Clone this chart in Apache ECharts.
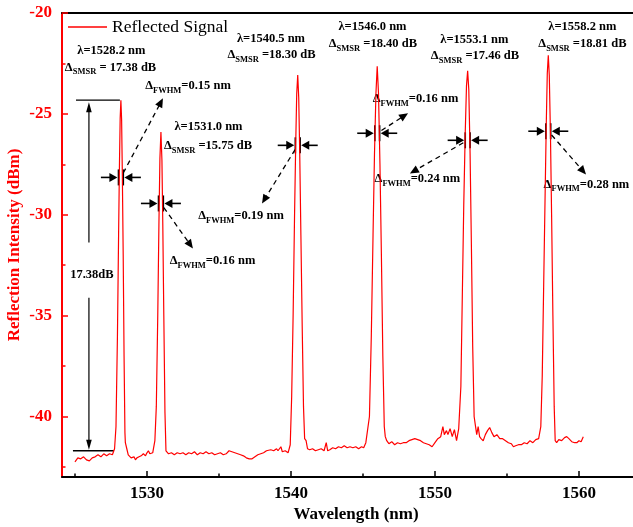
<!DOCTYPE html>
<html>
<head>
<meta charset="utf-8">
<script src="https://cdn.jsdelivr.net/npm/echarts@6/dist/echarts.min.js"></script>
<style>html,body{margin:0;padding:0;background:#fff;}#c{width:633px;height:527px;}</style>
</head>
<body>
<div id="c"></div>
<script>
// ---- spectrum data (wavelength nm, reflection dBm) ----
const wl = [
1525.0,1525.2,1525.4,1525.6,1525.8,1526.0,1526.2,1526.4,1526.6,1526.8,1527.0,1527.2,1527.4,1527.6,1527.75,
1527.85,1527.95,1528.03,1528.09,1528.14,1528.19,1528.24,1528.29,1528.35,1528.41,1528.47,1528.5,
1528.6,1528.7,1528.8,1528.9,1529.0,1529.1,1529.2,1529.3,1529.45,1529.6,1529.75,1529.9,1530.0,1530.1,1530.2,1530.4,1530.55,
1530.65,1530.75,1530.83,1530.9,1530.97,1531.04,1531.1,1531.17,1531.25,1531.32,
1531.5,1531.7,1531.9,1532.1,1532.3,1532.5,1532.7,1532.9,1533.1,1533.3,1533.5,1533.7,1533.9,1534.1,1534.3,1534.5,1534.7,1534.9,
1535.1,1535.3,1535.5,1535.7,1535.9,1536.1,1536.3,1536.5,1536.7,1536.9,1537.1,1537.3,1537.5,1537.7,1537.9,1538.1,1538.3,1538.4,
1538.6,1538.8,1539.0,1539.1,1539.3,1539.4,1539.6,1539.8,1539.95,
1540.05,1540.15,1540.25,1540.33,1540.4,1540.47,1540.54,1540.61,1540.69,1540.78,1540.87,1540.95,
1541.05,1541.15,1541.3,1541.5,1541.7,1541.9,1542.1,1542.3,1542.45,1542.55,1542.7,1542.9,1543.1,1543.3,1543.5,1543.7,1543.9,
1544.1,1544.3,1544.5,1544.7,1544.9,1545.05,1545.2,
1545.45,1545.58,1545.7,1545.8,1545.9,1545.99,1546.08,1546.18,1546.28,1546.38,1546.48,
1546.55,1546.65,1546.8,1547.0,1547.2,1547.4,1547.6,1547.8,1548.0,1548.2,1548.4,1548.6,1548.8,1549.0,1549.2,1549.4,1549.6,1549.8,
1550.0,1550.2,1550.4,1550.55,1550.65,1550.8,1550.9,1551.05,1551.2,1551.35,1551.5,1551.65,
1551.8,1551.9,1552.0,1552.1,1552.19,1552.27,1552.35,1552.44,1552.53,1552.62,1552.72,
1552.8,1552.9,1553.0,1553.1,1553.2,1553.35,1553.5,1553.65,1553.8,1553.95,1554.1,1554.3,1554.5,1554.7,1554.9,1555.1,1555.3,
1555.45,1555.6,1555.8,1556.0,1556.2,1556.4,1556.6,1556.8,1557.0,1557.2,1557.35,
1557.45,1557.55,1557.65,1557.73,1557.8,1557.87,1557.94,1558.02,1558.1,1558.19,1558.28,
1558.35,1558.45,1558.6,1558.8,1559.0,1559.15,1559.3,1559.5,1559.7,1559.85,1560.0,1560.15,1560.3
];
const dbm = [
-42.25,-42.05,-42.1,-42.0,-42.15,-42.2,-42.05,-42.0,-41.9,-42.0,-41.85,-41.95,-41.85,-41.9,-41.6,
-40.5,-36,-31,-27.5,-25.2,-24.32,-25.3,-28,-32,-37,-40.8,-41.3,
-41.6,-41.9,-41.95,-42.05,-42.1,-42.0,-42.15,-42.05,-42.0,-41.95,-41.85,-41.95,-41.8,-41.7,-41.85,-41.8,-41.2,
-39.5,-35,-30.5,-27.2,-25.9,-27.3,-30.5,-35,-39.8,-41.7,
-41.85,-41.8,-41.9,-41.8,-41.85,-41.8,-41.9,-41.8,-41.85,-41.75,-41.9,-41.8,-41.85,-41.75,-41.85,-41.8,-41.9,-41.85,
-41.8,-41.9,-41.85,-41.7,-41.75,-41.8,-41.85,-41.9,-41.95,-42.05,-42.1,-42.1,-42.0,-41.9,-41.85,-41.8,-41.7,-41.75,
-41.65,-41.7,-41.6,-41.7,-41.5,-41.75,-41.7,-41.8,-41.4,
-39,-35,-30,-26.5,-24,-23.08,-24.2,-27,-31,-35.5,-39.5,-41.1,
-41.2,-41.6,-41.65,-41.6,-41.7,-41.65,-41.6,-41.7,-41.3,-41.7,-41.65,-41.55,-41.6,-41.5,-41.55,-41.45,-41.55,
-41.5,-41.55,-41.5,-41.6,-41.5,-41.55,-41.3,
-40,-36,-31,-27,-24,-22.64,-24,-27.5,-32,-37,-40.5,
-41.0,-41.2,-41.35,-41.25,-41.4,-41.3,-41.35,-41.3,-41.3,-41.2,-41.15,-41.1,-41.15,-41.2,-41.3,-41.35,-41.4,-41.5,
-41.3,-41.1,-41.0,-40.5,-40.9,-40.7,-40.9,-40.6,-41.0,-40.65,-41.2,-40.6,
-38.5,-34,-29.5,-26,-23.6,-22.87,-23.8,-27,-31.5,-36.5,-40,
-40.4,-40.9,-40.5,-41.0,-41.1,-41.2,-40.9,-40.7,-40.55,-40.8,-41.0,-40.9,-41.1,-41.1,-41.2,-41.3,-41.35,
-41.5,-41.45,-41.4,-41.4,-41.3,-41.35,-41.2,-41.3,-41.15,-41.1,-40.5,
-38,-33.5,-29,-25.5,-23,-22.09,-23.1,-26,-30,-35,-39.5,
-41.2,-41.3,-41.15,-41.2,-41.05,-41.0,-41.1,-41.25,-41.3,-41.3,-41.2,-41.25,-41.0
];
// ---- tick values ----
const xMajorTicks = [1530, 1540, 1550, 1560];
const xMinorTicks = [1525, 1535, 1545, 1555];
const yMajorTicks = [-40, -35, -30, -25, -20];
const yMinorTicks = [-42.5, -37.5, -32.5, -27.5, -22.5];
// ---- annotations (data coordinates) ----
const peakNm = [1528.19, 1530.97, 1540.47, 1545.99, 1552.27, 1557.87];
const markerDb = [-28.15, -29.44, -26.56, -25.96, -26.31, -25.86];
const leaderTip = [[1531.11,-24.23],[1533.19,-31.67],[1537.99,-29.44],[1548.13,-24.97],[1548.26,-27.95],[1560.49,-28.0]];
const fwhmText = ['0.15','0.16','0.19','0.16','0.24','0.28'];
const fwhmPos = [[1532.85,-23.68],[1534.55,-32.34],[1536.53,-30.11],[1548.65,-24.32],[1548.78,-28.29],[1560.52,-28.54]];
const lambdaText = ['1528.2','1531.0','1540.5','1546.0','1553.1','1558.2'];
const lambdaPos = [[1527.53,-21.94],[1534.27,-25.71],[1538.61,-21.35],[1545.66,-20.75],[1552.74,-21.39],[1560.24,-20.75]];
const smsrText = [' = 17.38 dB',' =15.75 dB',' =18.30 dB',' =18.40 dB',' =17.46 dB',' =18.81 dB'];
const smsrPos = [[1527.47,-22.74],[1534.24,-26.61],[1538.65,-22.14],[1545.69,-21.59],[1552.78,-22.19],[1560.24,-21.59]];
const dim = {nm:1525.97, top:-24.32, bot:-41.7, gapTop:-31.38, gapBot:-34.11,
  topFrom:1525.07, topTo:1528.12, botFrom:1524.86, botTo:1527.7, text:'17.38dB', textPos:[1526.18,-33.03]};

const FONT = 'Liberation Serif';
const RED = '#ff0000';
const chart = echarts.init(document.getElementById('c'), null, {renderer:'canvas'});
const option = {
  animation: false,
  backgroundColor: '#ffffff',
  grid: {left: 62, top: 13, width: 576, height: 464, containLabel:false, outerBoundsMode:'none'},
  legend: {
    data: [{name:'Reflected Signal', icon:'rect'}], left: 63, top: 13, itemWidth: 39, itemHeight: 1.6,
    itemStyle: {color: RED, borderWidth: 0},
    textStyle: {fontFamily: FONT, fontSize: 17.5, color: '#000', padding: [0,0,0,0]}
  },
  xAxis: [
    {type:'value', min:1524.1, max:1564.1, position:'bottom',
     name:'Wavelength (nm)', nameLocation:'middle', nameGap:29, nameMoveOverlap:false,
     nameTextStyle:{fontFamily:FONT, fontWeight:'bold', fontSize:17, color:'#000', padding:[0,0,0,12]},
     axisLine:{show:true, lineStyle:{color:'#000', width:2}},
     axisTick:{show:true, inside:true, length:6, lineStyle:{color:'#000', width:1.5}, customValues:xMajorTicks},
     axisLabel:{show:true, customValues:xMajorTicks, formatter:v=>String(v), margin:8, fontFamily:FONT, fontWeight:'bold', fontSize:17, color:'#000'},
     splitLine:{show:false}},
    {type:'value', min:1524.1, max:1564.1, position:'bottom',
     axisLine:{show:false},
     axisTick:{show:true, inside:true, length:3.5, lineStyle:{color:'#000', width:1.5}, customValues:xMinorTicks},
     axisLabel:{show:false, customValues:xMinorTicks}, splitLine:{show:false}},
    {type:'value', min:1524.1, max:1564.1, position:'top',
     axisLine:{show:true, lineStyle:{color:'#000', width:2}},
     axisTick:{show:false}, axisLabel:{show:false}, splitLine:{show:false}}
  ],
  yAxis: [
    {type:'value', min:-43, max:-20, position:'left',
     name:'Reflection Intensity (dBm)', nameLocation:'middle', nameGap:39, nameMoveOverlap:false,
     nameTextStyle:{fontFamily:FONT, fontWeight:'bold', fontSize:17, color:RED},
     axisLine:{show:true, lineStyle:{color:RED, width:2}},
     axisTick:{show:true, inside:true, length:6, lineStyle:{color:RED, width:1.5}, customValues:yMajorTicks},
     axisLabel:{show:true, customValues:yMajorTicks, formatter:v=>String(v), margin:10, fontFamily:FONT, fontWeight:'bold', fontSize:17, color:RED},
     splitLine:{show:false}},
    {type:'value', min:-43, max:-20, position:'left',
     axisLine:{show:false},
     axisTick:{show:true, inside:true, length:3.5, lineStyle:{color:RED, width:1.5}, customValues:yMinorTicks},
     axisLabel:{show:false, customValues:yMinorTicks}, splitLine:{show:false}}
  ],
  series: [{
    type:'line', name:'Reflected Signal', xAxisIndex:0, yAxisIndex:0,
    data: wl.map((w,i)=>[w, dbm[i]]),
    symbol:'none', showSymbol:false, smooth:false,
    lineStyle:{color:RED, width:1.2}, itemStyle:{color:RED}
  }]
};
chart.setOption(option);

// ---- annotation graphics ----
const P = (nm, db) => chart.convertToPixel({xAxisIndex:0, yAxisIndex:0}, [nm, db]);
const g = [];
const BLACK = '#000';
function line(x1,y1,x2,y2,w,dash){ g.push({type:'line', silent:true, shape:{x1,y1,x2,y2}, style:{stroke:BLACK, lineWidth:w||1.2, lineDash:dash||null}}); }
function head(tx,ty,ang,len,hw){
  const c=Math.cos(ang), s=Math.sin(ang);
  const bx=tx-c*len, by=ty-s*len;
  g.push({type:'polygon', silent:true, shape:{points:[[tx,ty],[bx - s*hw, by + c*hw],[bx + s*hw, by - c*hw]]}, style:{fill:BLACK}});
}
const richStyles = {
  b:{fontFamily:FONT, fontWeight:'bold', fontSize:12.5, fill:BLACK, lineHeight:15, verticalAlign:'top'},
  s:{fontFamily:FONT, fontWeight:'bold', fontSize:8.5, fill:BLACK, lineHeight:9, padding:[7,0,0,0], verticalAlign:'top'}
};
function txt(p, text){ g.push({type:'text', silent:true, x:p[0], y:p[1], style:{text, rich:richStyles, align:'center', verticalAlign:'middle'}}); }

for (let i=0;i<peakNm.length;i++){
  const c = P(peakNm[i], markerDb[i]);
  g.push({type:'rect', silent:true, shape:{x:c[0]-3.2, y:c[1]-8, width:1.6, height:16}, style:{fill:BLACK}});
  g.push({type:'rect', silent:true, shape:{x:c[0]+1.6, y:c[1]-8, width:1.6, height:16}, style:{fill:BLACK}});
  line(c[0]-20, c[1], c[0]-9, c[1], 1.6);
  head(c[0]-3.5, c[1], 0, 8, 4.5);
  line(c[0]+20, c[1], c[0]+9, c[1], 1.6);
  head(c[0]+3.5, c[1], Math.PI, 8, 4.5);
  const t = P(leaderTip[i][0], leaderTip[i][1]);
  const ang = Math.atan2(t[1]-c[1], t[0]-c[0]);
  const sx = c[0]+Math.cos(ang)*5, sy = c[1]+Math.sin(ang)*5;
  line(sx, sy, t[0]-Math.cos(ang)*8, t[1]-Math.sin(ang)*8, 1.3, [5,4]);
  head(t[0], t[1], ang, 9, 4);
  txt(P(fwhmPos[i][0], fwhmPos[i][1]), '{b|Δ}{s|FWHM}{b|=' + fwhmText[i] + ' nm}');
  txt(P(lambdaPos[i][0], lambdaPos[i][1]), '{b|λ=' + lambdaText[i] + ' nm}');
  txt(P(smsrPos[i][0], smsrPos[i][1]), '{b|Δ}{s|SMSR}{b|' + smsrText[i] + '}');
}
{
  const tl = P(dim.topFrom, dim.top), tr = P(dim.topTo, dim.top);
  line(tl[0], tl[1], tr[0], tr[1], 1.3);
  const bl = P(dim.botFrom, dim.bot), br = P(dim.botTo, dim.bot);
  line(bl[0], bl[1], br[0], br[1], 1.3);
  const vt = P(dim.nm, dim.top), vg1 = P(dim.nm, dim.gapTop), vg2 = P(dim.nm, dim.gapBot), vb = P(dim.nm, dim.bot);
  line(vt[0], vt[1]+8, vg1[0], vg1[1], 1.2);
  line(vg2[0], vg2[1], vb[0], vb[1]-8, 1.2);
  head(vt[0], vt[1]+2, -Math.PI/2, 10, 2.8);
  head(vb[0], vb[1]-1, Math.PI/2, 10, 2.8);
  txt(P(dim.textPos[0], dim.textPos[1]), '{b|' + dim.text + '}');
}
chart.setOption({graphic: g});
</script>
</body>
</html>
